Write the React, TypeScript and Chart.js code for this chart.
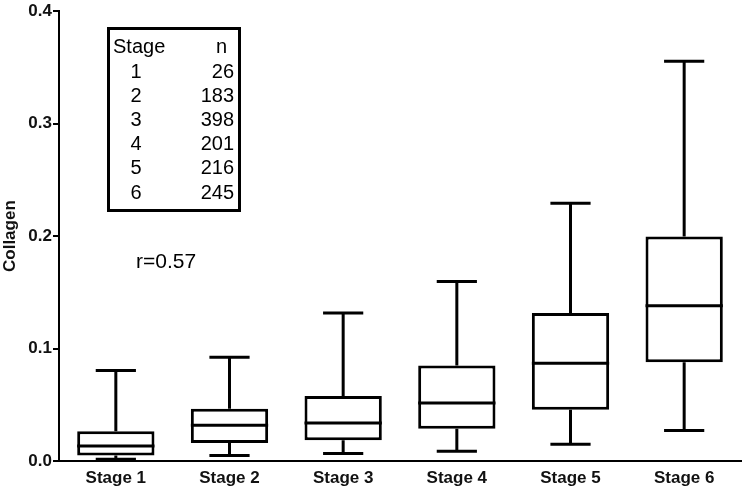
import React, { useEffect, useRef } from "react";
import { Chart, registerables } from "chart.js";

Chart.register(...registerables);

const categories = ["Stage 1", "Stage 2", "Stage 3", "Stage 4", "Stage 5", "Stage 6"];
const minValues = [0.0015, 0.005, 0.0066, 0.0086, 0.0148, 0.0272];
const q1Values = [0.005, 0.016, 0.0184, 0.0287, 0.0456, 0.0878];
const medianValues = [0.0133, 0.0317, 0.0337, 0.0515, 0.087, 0.138];
const q3Values = [0.0264, 0.0465, 0.0577, 0.0849, 0.1317, 0.1997];
const maxValues = [0.0805, 0.0923, 0.1317, 0.1597, 0.2293, 0.3555];

const tableStages = ["1", "2", "3", "4", "5", "6"];
const tableN = ["26", "183", "398", "201", "216", "245"];
const correlationText = "r=0.57";
const yTicks = [0, 0.1, 0.2, 0.3, 0.4];

const FONT = "'Liberation Sans', Arial, sans-serif";

const boxPlugin = {
  id: "boxWhiskers",
  afterDatasetsDraw(chart: any) {
    const ctx = chart.ctx;
    const x = chart.scales.x;
    const y = chart.scales.y;
    const meta = chart.getDatasetMeta(0);
    ctx.save();
    ctx.strokeStyle = "#000";
    ctx.lineWidth = 3;
    ctx.lineCap = "butt";
    categories.forEach((_, i) => {
      const cx = x.getPixelForValue(i);
      const bw = meta.data[i].width;
      const cap = bw * 0.52;
      const yMin = y.getPixelForValue(minValues[i]);
      const yQ1 = y.getPixelForValue(q1Values[i]);
      const yMed = y.getPixelForValue(medianValues[i]);
      const yQ3 = y.getPixelForValue(q3Values[i]);
      const yMax = y.getPixelForValue(maxValues[i]);
      ctx.beginPath();
      ctx.moveTo(cx, yQ3);
      ctx.lineTo(cx, yMax);
      ctx.moveTo(cx - cap / 2, yMax);
      ctx.lineTo(cx + cap / 2, yMax);
      ctx.moveTo(cx, yQ1);
      ctx.lineTo(cx, yMin);
      ctx.moveTo(cx - cap / 2, yMin);
      ctx.lineTo(cx + cap / 2, yMin);
      ctx.moveTo(cx - bw / 2, yMed);
      ctx.lineTo(cx + bw / 2, yMed);
      ctx.stroke();
    });

    ctx.lineWidth = 3;
    ctx.strokeRect(108.5, 28.5, 131, 182);
    ctx.fillStyle = "#000";
    ctx.font = `20px ${FONT}`;
    ctx.textBaseline = "middle";
    ctx.textAlign = "left";
    ctx.fillText("Stage", 113, 47);
    ctx.textAlign = "right";
    ctx.fillText("n", 227, 47);
    const rowH = 24.2;
    tableStages.forEach((s, i) => {
      const ty = 72 + i * rowH;
      ctx.textAlign = "center";
      ctx.fillText(s, 136, ty);
      ctx.textAlign = "right";
      ctx.fillText(tableN[i], 234, ty);
    });
    ctx.font = `21px ${FONT}`;
    ctx.textAlign = "left";
    ctx.fillText(correlationText, 136, 262);
    ctx.restore();
  },
};

export default function App() {
  const ref = useRef<HTMLCanvasElement>(null);
  useEffect(() => {
    if (!ref.current) return;
    const chart = new Chart(ref.current, {
      type: "bar",
      data: {
        labels: categories,
        datasets: [
          {
            data: categories.map((_, i) => [q1Values[i], q3Values[i]]) as any,
            backgroundColor: "#fff",
            borderColor: "#000",
            borderWidth: 3,
            borderSkipped: false,
            barPercentage: 0.68,
            categoryPercentage: 1,
          },
        ],
      },
      options: {
        responsive: false,
        animation: false,
        events: [],
        layout: { padding: { top: 9, right: 9, left: 0, bottom: 0 } },
        plugins: { legend: { display: false }, tooltip: { enabled: false } },
        scales: {
          x: {
            grid: { display: false, drawTicks: false },
            border: { display: true, color: "#000", width: 2 },
            ticks: {
              color: "#111",
              font: { family: FONT, size: 17, weight: "bold" },
              padding: 7,
              maxRotation: 0,
            },
            afterFit: (s: any) => {
              s.height = 34;
            },
          },
          y: {
            min: 0,
            max: 0.4,
            afterBuildTicks: (s: any) => {
              s.ticks = yTicks.map((v) => ({ value: v }));
            },
            grid: {
              drawOnChartArea: false,
              drawTicks: true,
              tickLength: 6,
              color: "#000",
              lineWidth: 2,
            },
            border: { display: true, color: "#000", width: 2 },
            ticks: {
              color: "#111",
              font: { family: FONT, size: 17, weight: "bold" },
              padding: 1,
              callback: (v: any) => Number(v).toFixed(1),
            },
            title: {
              display: true,
              text: "Collagen",
              color: "#111",
              font: { family: FONT, size: 17, weight: "bold" },
              padding: { top: 0, bottom: 0 },
            },
            afterFit: (s: any) => {
              s.width = 59;
            },
          },
        },
      },
      plugins: [boxPlugin],
    });
    return () => chart.destroy();
  }, []);
  return (
    <div style={{ position: "fixed", left: 0, top: 0, width: 750, height: 495, background: "#fff" }}>
      <canvas ref={ref} width={750} height={495} style={{ display: "block" }} />
    </div>
  );
}
